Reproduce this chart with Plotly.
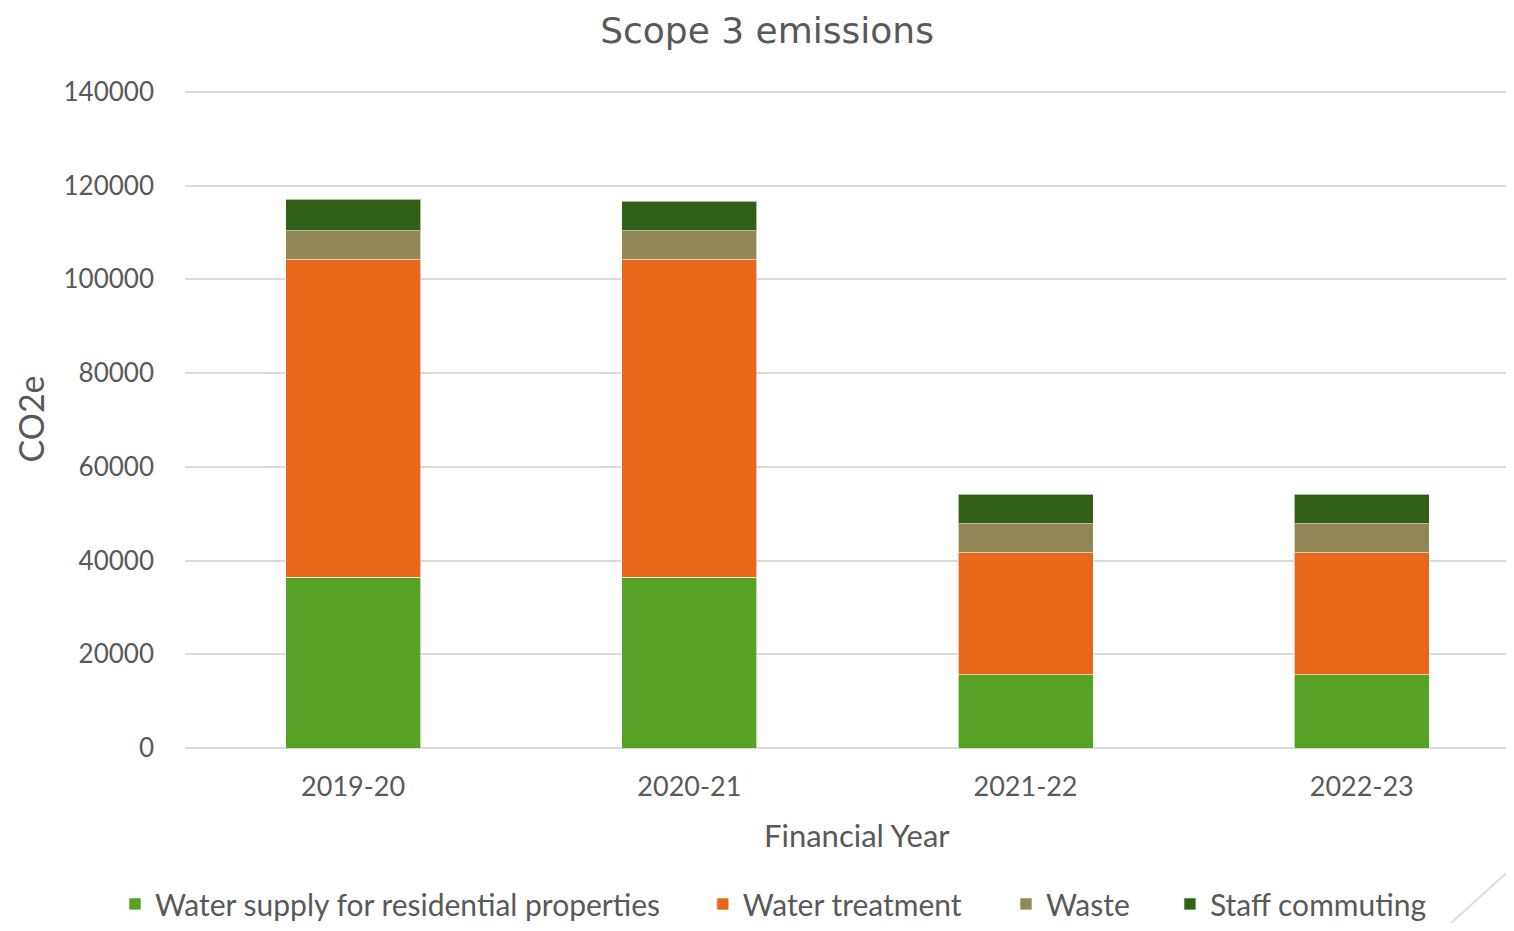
import plotly.graph_objects as go

years = ["2019-20", "2020-21", "2021-22", "2022-23"]
water_supply = [36400, 36400, 15650, 15650]
water_treatment = [67800, 67800, 26050, 26050]
waste = [6150, 6150, 6200, 6200]
staff_commuting = [6750, 6350, 6250, 6250]

series_names = ["Water supply for residential properties", "Water treatment", "Waste", "Staff commuting"]
series_values = [water_supply, water_treatment, waste, staff_commuting]
series_colors = ["#55A225", "#E8671A", "#918757", "#325F16"]
legend_ids = ["legend", "legend2", "legend3", "legend4"]
legend_x = [-0.053, 0.392, 0.6215, 0.7456]

y_ticks = [0, 20000, 40000, 60000, 80000, 100000, 120000, 140000]

AX_FONT = "Lato, 'Open Sans', sans-serif"
GREY = "#595959"

fig = go.Figure()
for name, vals, col, lid in zip(series_names, series_values, series_colors, legend_ids):
    fig.add_trace(go.Bar(
        x=years, y=vals, name=name, legend=lid,
        marker=dict(color=col, line=dict(color="rgba(255,255,255,0.6)", width=1)),
    ))

legend_common = dict(orientation="h", y=-0.237, yanchor="middle", xanchor="left",
                     font=dict(family=AX_FONT, size=30, color=GREY), bgcolor="rgba(0,0,0,0)")
legends = {lid: dict(x=lx, **legend_common) for lid, lx in zip(legend_ids, legend_x)}

fig.update_layout(
    width=1498, height=915,
    barmode="stack", bargap=0.5985,
    plot_bgcolor="white", paper_bgcolor="white",
    margin=dict(l=177, r=0, t=82, b=175, autoexpand=False),
    title=dict(text="Scope 3 emissions", x=0.5067, xref="container", xanchor="center",
               y=0.976, yref="container", yanchor="middle",
               font=dict(family="'DejaVu Sans', 'Open Sans', sans-serif", size=36, color=GREY)),
    font=dict(family=AX_FONT, color=GREY, size=26),
    showlegend=True,
    **legends,
)
fig.update_xaxes(
    range=[-0.5, 3.429], showgrid=False, showline=False, ticks="",
    tickfont=dict(family=AX_FONT, size=27, color=GREY), ticklabelstandoff=20,
)
fig.update_yaxes(
    range=[0, 140400], tickvals=y_ticks, ticktext=[str(v) for v in y_ticks],
    showgrid=True, gridcolor="#D9D9D9", gridwidth=2, zeroline=True, zerolinecolor="#D9D9D9", zerolinewidth=2,
    showline=False, ticks="",
    tickfont=dict(family=AX_FONT, size=26, color=GREY), ticklabelstandoff=30,
    title=dict(text="CO2e", standoff=8, font=dict(family=AX_FONT, size=34, color=GREY)),
)
fig.add_annotation(text="Financial Year", xref="paper", yref="paper", x=0.5087, y=-0.1326,
                   xanchor="center", yanchor="middle", showarrow=False,
                   font=dict(family=AX_FONT, size=31, color=GREY))
fig.add_shape(type="line", xref="paper", yref="paper", x0=0.958, y0=-0.2668, x1=1.0, y1=-0.1905,
              line=dict(color="#DDDDDD", width=2))

fig.write_html("out.html")
